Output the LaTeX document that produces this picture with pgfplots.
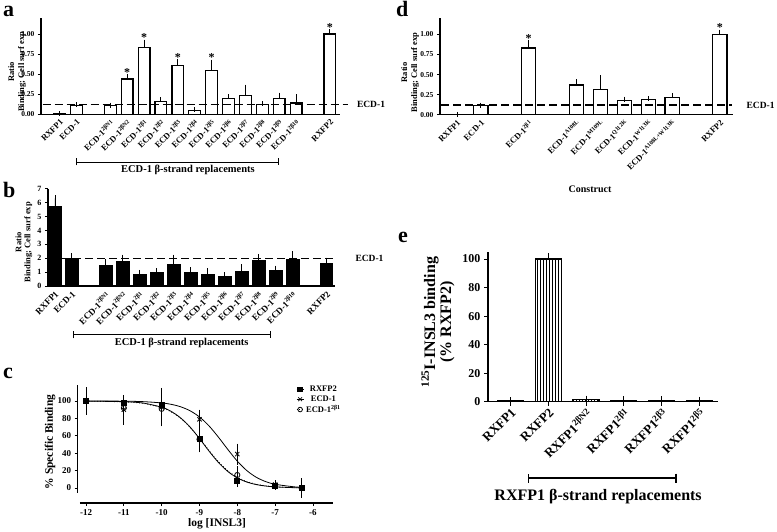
\documentclass[border=0pt]{standalone}
\usepackage{fontspec}
\setmainfont{Liberation Serif}
\usepackage{pgfplots}
\pgfplotsset{compat=1.18}
\usetikzlibrary{arrows.meta,patterns}
\newcommand\fs[1]{\fontsize{#1}{#1}\selectfont\bfseries}
\newcommand\fsl[2]{\fontsize{#1}{#2}\selectfont\bfseries}
\pgfplotsset{
  prism/.style={
    scale only axis,
    axis lines=left,
    axis line style={-, line width=1.1pt},
    tick align=outside,
    major tick length=3pt,
    tick style={black, line width=0.9pt},
    /pgf/number format/assume math mode=true,
    clip=false,
    anchor=south west,
  },
  catax/.style={xtick style={draw=none}},
  barerr/.style={error bars/.cd, y dir=plus, y explicit,
     error bar style={line width=0.9pt, black, solid},
     error mark options={mark size=#1, line width=0.9pt, black, solid}},
}
\begin{document}
\begin{tikzpicture}
\useasboundingbox (0pt,0pt) rectangle (777pt,-532pt);
% panel letters
\node[font=\fs{22}, anchor=base west, inner sep=0pt] at (3pt,-17pt) {a};
\node[font=\fs{22}, anchor=base west, inner sep=0pt] at (3pt,-197pt) {b};
\node[font=\fs{22}, anchor=base west, inner sep=0pt] at (3pt,-378.5pt) {c};
\node[font=\fs{22}, anchor=base west, inner sep=0pt] at (396pt,-17pt) {d};
\node[font=\fs{22}, anchor=base west, inner sep=0pt] at (398pt,-242pt) {e};

% ---------- panel a ----------
\begin{axis}[prism, catax, at={(41pt,-114.3pt)}, width=299pt, height=96.3pt,
  xmin=-1.1, xmax=16.6, ymin=0, ymax=1.2,
  ytick={0,0.25,0.5,0.75,1},
  yticklabel style={font=\fs{7.5}, /pgf/number format/fixed, /pgf/number format/fixed zerofill, /pgf/number format/precision=2},
  xtick={0,1,3,4,5,6,7,8,9,10,11,12,13,14,16},
  xticklabels={RXFP1,ECD-1,ECD-1\textsuperscript{2βN1},ECD-1\textsuperscript{2βN2},ECD-1\textsuperscript{2β1},ECD-1\textsuperscript{2β2},ECD-1\textsuperscript{2β3},ECD-1\textsuperscript{2β4},ECD-1\textsuperscript{2β5},ECD-1\textsuperscript{2β6},ECD-1\textsuperscript{2β7},ECD-1\textsuperscript{2β8},ECD-1\textsuperscript{2β9},ECD-1\textsuperscript{2β10},RXFP2},
  xticklabel style={font=\fs{8.5}, rotate=45, anchor=north east, inner sep=1pt},
  ylabel={Ratio\\Binding; Cell surf exp},
  ylabel style={font=\fsl{8.5}{10}, align=center, at={(axis description cs:-0.08,0.44)}, anchor=center},
]
\addplot[ybar, bar width=0.7, draw=black, fill=white, line width=1.2pt, barerr=2.5pt] coordinates {
 (0,0.005) +- (0,0) (1,0.11) +- (0,0.01) (3,0.11) +- (0,0.005) (4,0.44) +- (0,0.03)
 (5,0.83) +- (0,0.07) (6,0.16) +- (0,0.02) (7,0.61) +- (0,0.05) (8,0.05) +- (0,0.005)
 (9,0.55) +- (0,0.10) (10,0.20) +- (0,0.02) (11,0.23) +- (0,0.11) (12,0.12) +- (0,0.01)
 (13,0.20) +- (0,0.04) (14,0.14) +- (0,0.08) (16,1.00) +- (0,0.03)};
\addplot[black, line width=1.3pt, dash pattern=on 8pt off 4pt] coordinates {(-1.0,0.12) (17.1,0.12)};
\addplot[draw=none, mark=none, nodes near coords={*}, every node near coord/.style={font=\fs{12}, anchor=south, inner sep=0pt}] coordinates {(4,0.47) (5,0.90) (7,0.66) (9,0.65) (16,1.03)};
\node[font=\fs{9.5}, anchor=west] at (axis cs:17.4,0.12) {ECD-1};
\draw[line width=0.9pt, {Bar[width=7pt]}-{Bar[width=7pt]}] (axis cs:1,-0.594) -- (axis cs:13,-0.594);
\node[font=\fs{10.5}] at (axis cs:7.6,-0.69) {ECD-1 β-strand replacements};
\end{axis}

% ---------- panel b ----------
\begin{axis}[prism, catax, at={(48pt,-286pt)}, width=287pt, height=97.3pt,
  xmin=-0.41, xmax=16.5, ymin=0, ymax=7,
  ytick={0,1,2,3,4,5,6,7},
  yticklabel style={font=\fs{8}},
  xtick={0,1,3,4,5,6,7,8,9,10,11,12,13,14,16},
  xticklabels={RXFP1,ECD-1,ECD-1\textsuperscript{2βN1},ECD-1\textsuperscript{2βN2},ECD-1\textsuperscript{2β1},ECD-1\textsuperscript{2β2},ECD-1\textsuperscript{2β3},ECD-1\textsuperscript{2β4},ECD-1\textsuperscript{2β5},ECD-1\textsuperscript{2β6},ECD-1\textsuperscript{2β7},ECD-1\textsuperscript{2β8},ECD-1\textsuperscript{2β9},ECD-1\textsuperscript{2β10},RXFP2},
  xticklabel style={font=\fs{9}, rotate=45, anchor=north east, inner sep=1pt},
  ylabel={Ratio\\Binding; Cell surf exp},
  ylabel style={font=\fsl{8.5}{9}, align=center, at={(axis description cs:-0.084,0.45)}, anchor=center},
]
\addplot[ybar, bar width=0.76, draw=black, fill=black, line width=1pt, barerr=3pt] coordinates {
 (0,5.7) +- (0,0.6) (1,2.0) +- (0,0.15) (3,1.5) +- (0,0.2) (4,1.75) +- (0,0.3)
 (5,0.8) +- (0,0.15) (6,0.95) +- (0,0.12) (7,1.55) +- (0,0.5) (8,1.0) +- (0,0.15)
 (9,0.85) +- (0,0.2) (10,0.7) +- (0,0.06) (11,1.05) +- (0,0.3) (12,1.8) +- (0,0.3)
 (13,1.1) +- (0,0.15) (14,1.9) +- (0,0.4) (16,1.6) +- (0,0.22)};
\addplot[black, line width=1.3pt, dash pattern=on 8pt off 4pt] coordinates {(-0.35,2.0) (16.4,2.0)};
\node[font=\fs{9.5}, anchor=west] at (axis cs:17.5,2.0) {ECD-1};
\draw[line width=0.9pt, {Bar[width=7pt]}-{Bar[width=7pt]}] (axis cs:1.04,-3.52) -- (axis cs:12.75,-3.52);
\node[font=\fs{10.5}] at (axis cs:7.47,-4.12) {ECD-1 β-strand replacements};
\end{axis}

% ---------- panel c ----------
\begin{axis}[prism, at={(77.7pt,-503pt)}, width=255.3pt, height=118pt,
  axis line style={draw=none},
  xmin=-12.22, xmax=-5.47, ymin=-17.2, ymax=118.4,
  xtick={-12,-11,-10,-9,-8,-7,-6}, ytick={0,20,40,60,80,100},
  xticklabel style={font=\fs{9}}, yticklabel style={font=\fs{9}},
  xlabel={log [INSL3]}, xlabel style={font=\fs{11.5}, at={(axis description cs:0.546,-0.178)}, anchor=center},
  ylabel={\% Specific Binding}, ylabel style={font=\fs{11.5}, at={(axis description cs:-0.108,0.517)}, anchor=center},
  legend style={at={(0.855,1.01)}, anchor=north west, draw=none, fill=none, font=\fs{8.5}, row sep=-1.5pt, inner sep=0pt},
  legend image code/.code={\draw[#1] (0cm,0cm) -- (0.25cm,0cm); \draw[#1, only marks] plot coordinates {(0.125cm,0cm)};},
]
\draw[line width=1.1pt] (axis cs:-12.16,-17.2) -- (axis cs:-5.47,-17.2);
\draw[line width=1.1pt] (axis cs:-12.22,-5.7) -- (axis cs:-12.22,118.4);
% fitted curves
\addplot[forget plot, smooth, black, line width=0.8pt] coordinates {
 (-12,99.9) (-11,99.2) (-10.5,97.7) (-10,92.9) (-9.75,88.1) (-9.5,80.6) (-9.25,70.1) (-9,56.9)
 (-8.75,42.6) (-8.5,29.4) (-8.25,19.0) (-8,11.6) (-7.75,6.9) (-7.5,4.0) (-7.25,2.3) (-7,1.3) (-6.5,0.4) (-6.3,0.3)};
\addplot[forget plot, smooth, black, line width=0.8pt, dotted] coordinates {
 (-12,99.9) (-11,99.0) (-10.5,97.3) (-10,92.3) (-9.75,87.5) (-9.5,80.2) (-9.25,70.0) (-9,57.2)
 (-8.75,43.3) (-8.5,30.3) (-8.25,19.9) (-8,12.4) (-7.75,7.5) (-7.5,4.4) (-7.25,2.6) (-7,1.5) (-6.5,0.5) (-6.3,0.3)};
\addplot[forget plot, smooth, black, line width=0.8pt] coordinates {
 (-12,100) (-11,99.8) (-10.5,99.3) (-10,97.8) (-9.75,96.2) (-9.5,93.4) (-9.25,88.8) (-9,81.7)
 (-8.75,71.5) (-8.5,58.5) (-8.25,44.3) (-8,30.9) (-7.75,20.1) (-7.5,12.4) (-7.25,7.4) (-7,4.3) (-6.5,1.4) (-6.3,0.9)};
% data points
\addplot[forget plot, only marks, black, mark=x, mark size=3pt, line width=0.8pt,
  error bars/.cd, y dir=both, y explicit, error bar style={line width=0.8pt}, error mark options={mark size=3.5pt, line width=0.8pt}] coordinates {
 (-12,100) +- (0,5) (-11,90) +- (0,13) (-10,93) +- (0,18) (-9,79) +- (0,7) (-8,39) +- (0,8) (-7,4) +- (0,1) (-6.3,0) +- (0,7)};
\addplot[forget plot, only marks, black, mark=o, mark size=2.6pt, line width=0.8pt, mark options={fill=white},
  error bars/.cd, y dir=both, y explicit, error bar style={line width=0.8pt}, error mark options={mark size=3.5pt, line width=0.8pt}] coordinates {
 (-12,100) +- (0,5) (-11,92) +- (0,8) (-10,91) +- (0,8) (-9,56) +- (0,11) (-8,15) +- (0,6) (-6.3,0) +- (0,5)};
\addplot[forget plot, only marks, black, mark=square*, mark size=2.5pt, line width=0.8pt,
  error bars/.cd, y dir=both, y explicit, error bar style={line width=0.8pt}, error mark options={mark size=3.5pt, line width=0.8pt}] coordinates {
 (-12,100) +- (0,12) (-11,98) +- (0,3) (-10,95) +- (0,5) (-9,57) +- (0,9) (-8,8) +- (0,3) (-7,3) +- (0,1) (-6.3,0) +- (0,3)};
\addlegendimage{black, line width=0.8pt, mark=square*, mark size=2.3pt}
\addlegendentry{RXFP2}
\addlegendimage{black, line width=0.8pt, mark=x, mark size=2.6pt}
\addlegendentry{ECD-1}
\addlegendimage{black, line width=0.8pt, dotted, mark=o, mark size=2.3pt, mark options={solid, fill=white}}
\addlegendentry{ECD-1\textsuperscript{2β1}}
\end{axis}

% ---------- panel d ----------
\begin{axis}[prism, catax, at={(440pt,-114.7pt)}, width=293pt, height=96.3pt,
  xmin=-0.71, xmax=11.55, ymin=0, ymax=1.2,
  ytick={0,0.25,0.5,0.75,1},
  yticklabel style={font=\fs{7.5}, /pgf/number format/fixed, /pgf/number format/fixed zerofill, /pgf/number format/precision=2},
  xtick={0,1,3,5,6,7,8,9,11},
  xticklabels={RXFP1,ECD-1,ECD-1\textsuperscript{2β1},ECD-1\textsuperscript{A108L},ECD-1\textsuperscript{M109L},ECD-1\textsuperscript{Q112K},ECD-1\textsuperscript{W113K},ECD-1\textsuperscript{A108L+W113K},RXFP2},
  xticklabel style={font=\fs{8.5}, rotate=45, anchor=north east, inner sep=1pt},
  ylabel={Ratio\\Binding; Cell surf exp},
  ylabel style={font=\fsl{8.5}{10}, align=center, at={(axis description cs:-0.102,0.44)}, anchor=center},
  xlabel={Construct}, xlabel style={font=\fs{10}, at={(axis description cs:0.512,-0.77)}, anchor=center},
]
\addplot[ybar, bar width=0.59, draw=black, fill=white, line width=1.2pt, barerr=2.5pt] coordinates {
 (0,0.005) +- (0,0) (1,0.11) +- (0,0.01) (3,0.83) +- (0,0.07) (5,0.37) +- (0,0.04)
 (6,0.31) +- (0,0.15) (7,0.18) +- (0,0.015) (8,0.19) +- (0,0.01) (9,0.21) +- (0,0.03) (11,1.00) +- (0,0.03)};
\addplot[black, line width=1.3pt, dash pattern=on 8pt off 4pt] coordinates {(-0.65,0.12) (11.5,0.12)};
\addplot[draw=none, mark=none, nodes near coords={*}, every node near coord/.style={font=\fs{12}, anchor=south, inner sep=0pt}] coordinates {(3,0.90) (11,1.03)};
\node[font=\fs{9.5}, anchor=west] at (axis cs:11.97,0.12) {ECD-1};
\end{axis}

% ---------- panel e ----------
\begin{axis}[prism, at={(488pt,-401.7pt)}, width=230pt, height=150pt,
  xmin=-0.6, xmax=5.5, ymin=0, ymax=105.1,
  axis line style={line width=1.3pt},
  major tick length=4pt,
  ytick={0,20,40,60,80,100}, yticklabel style={font=\fs{12}},
  xtick={0,1,2,3,4,5},
  xticklabels={RXFP1,RXFP2,RXFP1\textsuperscript{2βN2},RXFP1\textsuperscript{2β1},RXFP1\textsuperscript{2β3},RXFP1\textsuperscript{2β5}},
  xticklabel style={font=\fs{13}, rotate=45, anchor=north east, inner sep=1pt},
  ylabel={\textsuperscript{125}I-INSL3 binding\\(\% RXFP2)},
  ylabel style={font=\fs{16}, align=center, at={(axis description cs:-0.217,0.53)}, anchor=center},
]
\addplot[ybar, bar width=0.69, draw=black, pattern=vertical lines, line width=1.2pt, barerr=3.5pt] coordinates {
 (0,0.5) +- (0,0) (1,100) +- (0,1.5) (2,1.5) +- (0,0.3) (3,1.0) +- (0,0.2) (4,1.0) +- (0,0.2) (5,0.9) +- (0,0.2)};
\draw[line width=1.2pt, {Bar[width=9pt]}-{Bar[width=9pt]}] (axis cs:0.45,-53.5) -- (axis cs:4.40,-53.5);
\node[font=\fs{16}] at (axis cs:2.32,-66.8) {RXFP1 β-strand replacements};
\end{axis}
\end{tikzpicture}
\end{document}
